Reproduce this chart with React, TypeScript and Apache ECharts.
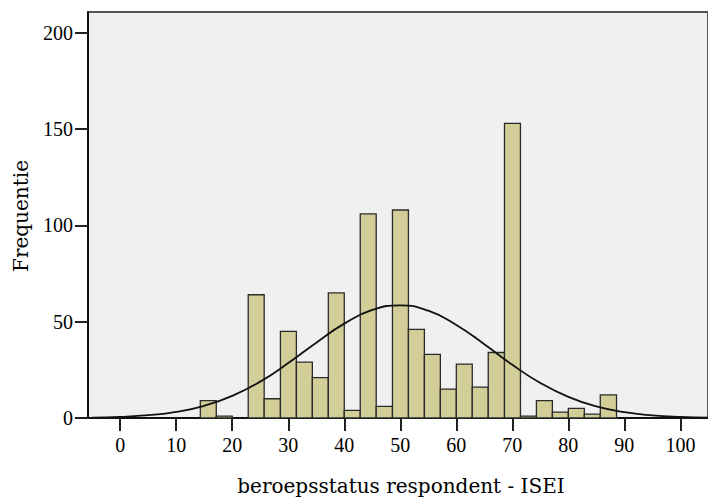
import React, { useEffect, useRef } from "react";
import * as echarts from "echarts";

// Histogram bins (edges) and frequencies
const BIN_EDGES = [
  14.3, 17.15, 20.0, 22.85, 25.7, 28.6, 31.45, 34.3, 37.15, 40.0, 42.85, 45.7, 48.6,
  51.45, 54.3, 57.15, 60.0, 62.85, 65.7, 68.6, 71.45, 74.3, 77.15, 80.0, 82.85, 85.7, 88.6,
];
const COUNTS = [9, 1, 0, 64, 10, 45, 29, 21, 65, 4, 106, 6, 108, 46, 33, 15, 28, 16, 34, 153, 1, 9, 3, 5, 2, 12];

// Normal curve
const CURVE_X = [-5, 0, 5, 10, 15, 20, 25, 30, 35, 40, 45, 50, 55, 60, 65, 70, 75, 80, 85, 90, 95, 100, 105];
const CURVE_Y = [0.24, 0.61, 1.47, 3.19, 6.33, 11.45, 18.9, 28.5, 39.1, 49.0, 56.1, 58.5, 55.7, 48.3, 38.3, 27.6, 18.2, 10.96, 6.0, 3.0, 1.37, 0.57, 0.22];

const X_TICKS = [0, 10, 20, 30, 40, 50, 60, 70, 80, 90, 100];
const Y_TICKS = [0, 50, 100, 150, 200];

const X_TITLE = "beroepsstatus respondent - ISEI";
const Y_TITLE = "Frequentie";

export default function App() {
  const ref = useRef<HTMLDivElement>(null);
  useEffect(() => {
    document.body.style.margin = "0";
    if (!ref.current) return;
    const chart = echarts.init(ref.current, undefined, { renderer: "svg" });
    const histData = COUNTS.map((c, i) => [BIN_EDGES[i], BIN_EDGES[i + 1], c]);
    const curveData = CURVE_X.map((x, i) => [x, CURVE_Y[i]]);
    const tickFont = {
      fontFamily: "'Liberation Serif', serif",
      fontSize: 20,
      color: "#000",
    };
    chart.setOption({
      animation: false,
      backgroundColor: "#ffffff",
      grid: {
        left: 88,
        top: 12,
        right: -2,
        bottom: 81,
        show: true,
        backgroundColor: "#f0f0f0",
        borderColor: "#555",
        borderWidth: 2,
      },
      xAxis: {
        type: "value",
        min: -5.75,
        max: 104.93,
        splitLine: { show: false },
        axisLine: { show: true, onZero: false, lineStyle: { color: "#111", width: 2 } },
        axisTick: {
          show: true,
          length: 13,
          customValues: X_TICKS,
          lineStyle: { color: "#222", width: 2 },
        },
        axisLabel: { ...tickFont, margin: 17, customValues: X_TICKS },
      },
      yAxis: {
        type: "value",
        min: 0,
        max: 210.8,
        splitLine: { show: false },
        axisLine: { show: true, onZero: false, lineStyle: { color: "#111", width: 2 } },
        axisTick: {
          show: true,
          length: 13,
          customValues: Y_TICKS,
          lineStyle: { color: "#222", width: 2 },
        },
        axisLabel: { ...tickFont, margin: 15, customValues: Y_TICKS },
      },
      graphic: [
        {
          type: "text",
          x: 401,
          y: 486,
          style: {
            text: X_TITLE,
            fontFamily: "'DejaVu Serif', serif",
            fontSize: 20,
            fill: "#000",
            align: "center",
            verticalAlign: "middle",
          },
        },
        {
          type: "text",
          x: 21,
          y: 216,
          rotation: Math.PI / 2,
          style: {
            text: Y_TITLE,
            fontFamily: "'DejaVu Serif', serif",
            fontSize: 20,
            fill: "#000",
            align: "center",
            verticalAlign: "middle",
          },
        },
      ],
      series: [
        {
          type: "custom",
          data: histData,
          encode: { x: [0, 1], y: 2 },
          renderItem: (params: any, api: any) => {
            const x0 = api.value(0);
            const x1 = api.value(1);
            const v = api.value(2);
            if (!v) return null;
            const pTop = api.coord([x0, v]);
            const pBot = api.coord([x1, 0]);
            return {
              type: "rect",
              shape: {
                x: pTop[0],
                y: pTop[1],
                width: pBot[0] - pTop[0],
                height: pBot[1] - pTop[1],
              },
              style: { fill: "#d3ce97", stroke: "#2a2a2a", lineWidth: 1.3 },
            };
          },
          z: 2,
        },
        {
          type: "line",
          data: curveData,
          smooth: true,
          showSymbol: false,
          clip: true,
          lineStyle: { color: "#111", width: 1.8 },
          z: 3,
        },
      ],
    });
    return () => chart.dispose();
  }, []);
  return <div ref={ref} style={{ width: 708, height: 499 }} />;
}
